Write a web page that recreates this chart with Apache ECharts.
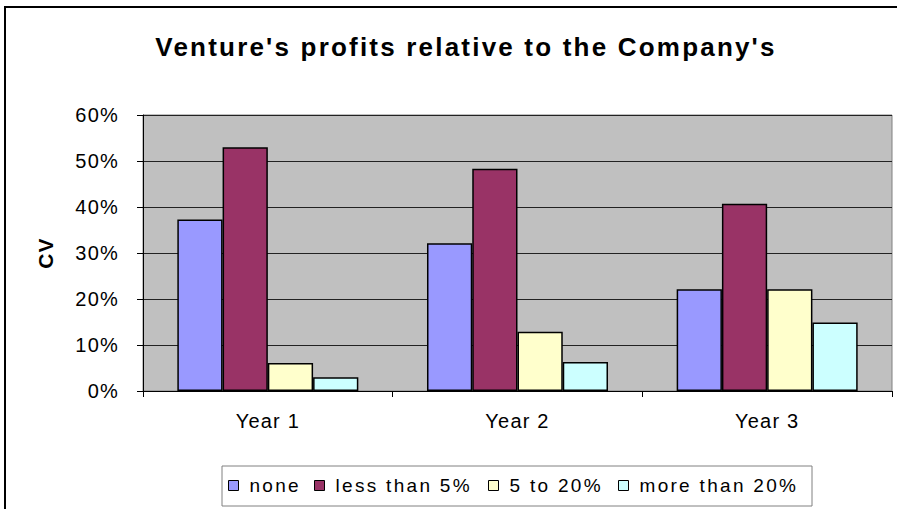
<!DOCTYPE html>
<html>
<head>
<meta charset="utf-8">
<script src="https://cdn.jsdelivr.net/npm/echarts@6/dist/echarts.min.js"></script>
<style>
html, body { margin: 0; padding: 0; background: #fff; }
#chart { width: 897px; height: 509px; }
/* the original text is spaced out a little */
#chart svg text { letter-spacing: 1.2px; }
#chart svg text[style*="26px"] { letter-spacing: 2.2px; }
#chart svg text[style*="19px"] { letter-spacing: 2.3px; }
</style>
</head>
<body>
<div id="chart"></div>
<script>
const years = ['Year 1', 'Year 2', 'Year 3']
const none = [37.3, 32.1, 22.1]
const lessThan5 = [53.0, 48.3, 40.7]
const from5to20 = [6.1, 12.9, 22.1]
const moreThan20 = [3.0, 6.3, 14.9]
const seriesNames = ['none', 'less than 5%', '5 to 20%', 'more than 20%']
const colors = ['#9999ff', '#993366', '#ffffcc', '#ccffff']

const chart = echarts.init(document.getElementById('chart'), null, { renderer: 'svg' })
const font = 'Arial, "Liberation Sans", sans-serif'
const legendLefts = [228, 314, 488, 618]

function bar (name, data, i) {
  return {
    name: name,
    type: 'bar',
    data: data,
    barGap: '0%',
    barCategoryGap: '27.5%',
    itemStyle: { color: colors[i], borderColor: '#000', borderWidth: 1.5 }
  }
}

const option = {
  animation: false,
  color: colors,
  title: {
    text: "Venture's profits relative to the Company's",
    left: 461,
    textAlign: 'center',
    top: 29,
    textStyle: { fontFamily: font, fontSize: 26, fontWeight: 'bold', color: '#000' }
  },
  graphic: [
    { type: 'rect', silent: true, shape: { x: 5, y: 7, width: 1000, height: 1000 },
      style: { fill: 'none', stroke: '#000', lineWidth: 2 } },
    { type: 'rect', silent: true, shape: { x: 222, y: 466, width: 590, height: 40 },
      style: { fill: '#fff', stroke: '#808080', lineWidth: 1 } }
  ],
  legend: seriesNames.map((n, i) => ({
    data: [n],
    left: legendLefts[i],
    top: 476,
    padding: 0,
    icon: 'rect',
    itemWidth: 10,
    itemHeight: 10,
    itemStyle: { borderColor: '#000', borderWidth: 1 },
    textStyle: { fontFamily: font, fontSize: 19, color: '#000', padding: [0, 0, 0, 6] }
  })),
  grid: {
    left: 143,
    right: 5,
    top: 115,
    bottom: 118,
    show: true,
    backgroundColor: '#c0c0c0',
    borderColor: '#808080',
    borderWidth: 1
  },
  xAxis: {
    type: 'category',
    data: years,
    axisLine: { lineStyle: { color: '#000', width: 1 } },
    axisTick: { show: true, length: 6, lineStyle: { color: '#000' } },
    axisLabel: { fontFamily: font, fontSize: 20, color: '#000', margin: 20 }
  },
  yAxis: {
    type: 'value',
    min: 0,
    max: 60,
    interval: 10,
    name: 'CV',
    nameLocation: 'middle',
    nameGap: 87,
    nameTextStyle: { fontFamily: font, fontSize: 21, fontWeight: 'bold', color: '#000' },
    axisLine: { show: true, lineStyle: { color: '#000', width: 1 } },
    axisTick: { show: true, length: 6, lineStyle: { color: '#000' } },
    axisLabel: { fontFamily: font, fontSize: 20, color: '#000', margin: 24, formatter: '{value}%' },
    splitLine: { show: true, lineStyle: { color: '#222', width: 1 } }
  },
  series: [
    bar(seriesNames[0], none, 0),
    bar(seriesNames[1], lessThan5, 1),
    bar(seriesNames[2], from5to20, 2),
    bar(seriesNames[3], moreThan20, 3)
  ]
}

chart.setOption(option)
</script>
</body>
</html>
